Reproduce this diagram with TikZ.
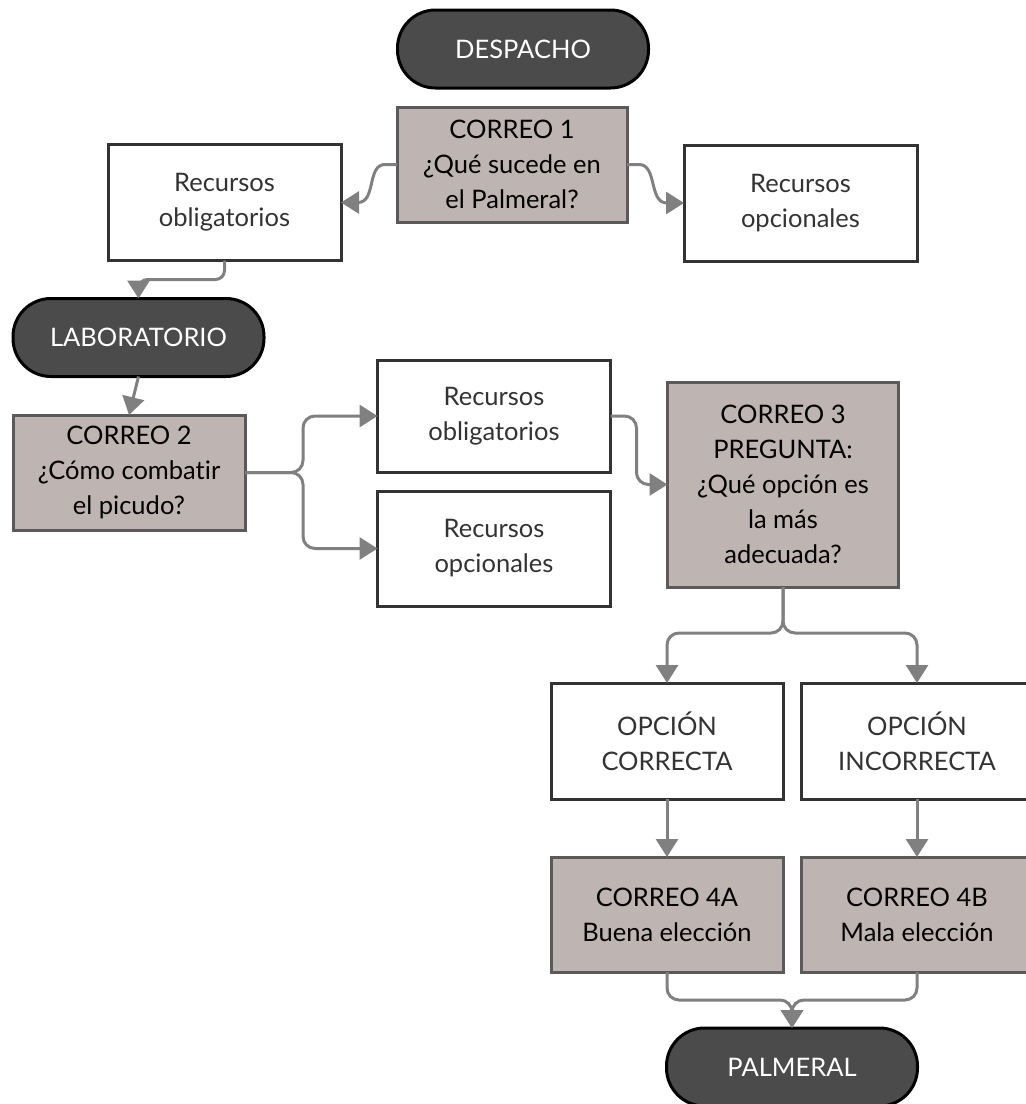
\documentclass[tikz,border=0pt]{standalone}
\usepackage{fontspec}
\setmainfont{Lato}[Ligatures=NoCommon]
\usetikzlibrary{arrows.meta,calc}
\definecolor{mailfill}{HTML}{BEB4B2}
\definecolor{mailedge}{HTML}{5A5A5A}
\definecolor{resedge}{HTML}{333333}
\definecolor{restext}{HTML}{333333}
\definecolor{placefill}{HTML}{4B4B4B}
\definecolor{conncol}{HTML}{808080}
\begin{document}
\begin{tikzpicture}[x=1pt,y=-1pt,
  every node/.style={inner sep=0pt,outer sep=0pt,align=center,font=\fontsize{25.5}{35}\selectfont},
  mailbox/.style={rectangle,fill=mailfill,draw=mailedge,line width=3pt,text=black,minimum width=232pt,minimum height=115pt},
  resbox/.style={rectangle,fill=white,draw=resedge,line width=3pt,text=restext,minimum width=233pt,minimum height=116pt},
  placebox/.style={rectangle,rounded corners=38pt,fill=placefill,draw=black,line width=3pt,text=white,minimum width=251pt,minimum height=78pt},
  conn/.style={draw=conncol,line width=3pt,rounded corners=12pt,-{Triangle[length=18pt,width=22pt]}}
]
\useasboundingbox (0,0) rectangle (1026,1104);
\clip (0,0) rectangle (1026,1104);

\node[placebox] (desp) at (523,49) {DESPACHO};
\node[mailbox,minimum width=230pt] (c1) at (512,164.5) {CORREO 1\\¿Qué sucede en\\el Palmeral?};
\node[resbox] (ro1) at (224.5,202.5) {Recursos\\obligatorios};
\node[resbox] (op1) at (800.5,203) {Recursos\\opcionales};
\node[placebox] (lab) at (138.5,337.5) {LABORATORIO};
\node[mailbox] (c2) at (129,472.5) {CORREO 2\\¿Cómo combatir\\el picudo?};
\node[resbox,minimum height=112pt] (ro2) at (494,416) {Recursos\\obligatorios};
\node[resbox,minimum height=115pt] (op2) at (494,548.5) {Recursos\\opcionales};
\node[mailbox,minimum width=231pt,minimum height=205pt] (c3) at (783,484.5) {CORREO 3\\PREGUNTA:\\¿Qué opción es\\la más\\adecuada?};
\node[resbox,minimum width=232pt] (opc) at (667,741) {OPCIÓN\\CORRECTA};
\node[resbox,minimum width=232pt] (opi) at (917,741) {OPCIÓN\\INCORRECTA};
\node[mailbox] (c4a) at (667,914.5) {CORREO 4A\\Buena elección};
\node[mailbox] (c4b) at (917,914.5) {CORREO 4B\\Mala elección};
\node[placebox] (palm) at (792,1067) {PALMERAL};

% connectors
\draw[conn,rounded corners=0pt] (c1.west) -- ++(-12,0) to[out=180,in=0] ($(ro1.east)+(17,0)$) -- (ro1.east);
\draw[conn,rounded corners=0pt] (c1.east) -- ++(12,0) to[out=0,in=180] ($(op1.west)+(-17,0)$) -- (op1.west);
\draw[conn,rounded corners=9pt] (ro1.south) |- ($(lab.north)+(0,-19)$) -- (lab.north);
\draw[conn] (lab.south) -- (c2.north);
\coordinate (b2) at ($(c2.east)+(58,0)$);
\draw[conn] (c2.east) -- (b2) |- (ro2.west);
\draw[conn] (c2.east) -- (b2) |- (op2.west);
\draw[conn] (ro2.east) -- ++(26,0) |- (c3.west);
\coordinate (b3) at ($(c3.south)+(0,46)$);
\draw[conn] (c3.south) -- (b3) -| (opc.north);
\draw[conn] (c3.south) -- (b3) -| (opi.north);
\draw[conn] (opc.south) -- (c4a.north);
\draw[conn] (opi.south) -- (c4b.north);
\coordinate (b4) at ($(palm.north)+(0,-28)$);
\draw[conn] (c4a.south) |- (b4) -- (palm.north);
\draw[conn] (c4b.south) |- (b4) -- (palm.north);
\end{tikzpicture}
\end{document}
